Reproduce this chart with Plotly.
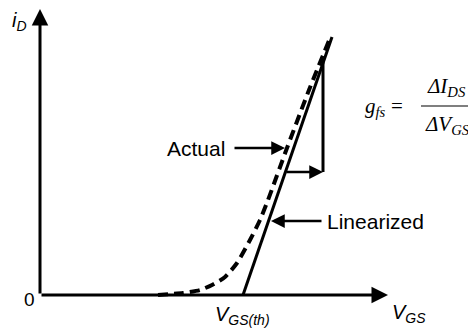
import plotly.graph_objects as go

# ---- data (arbitrary units: V_GS horizontal, i_D vertical) ----
x_axis_end = 34.8
y_axis_end = 28.6
v_th = 20.3

lin_x = [v_th, 29.2]
lin_y = [0.0, 25.8]

actual_x = [11.8, 14.3, 16.0, 17.2, 18.5, 19.7, 21.0, 22.0, 22.8, 24.7, 26.9, 29.0]
actual_y = [0.0, 0.2, 0.5, 1.0, 1.8, 3.2, 5.5, 7.5, 9.5, 14.7, 20.5, 25.7]

tri_x = [24.5, 28.3]      # ΔV_GS span
tri_y = [12.3, 23.4]      # ΔI_DS span

SANS = "Liberation Sans, Arial, sans-serif"
SERIF = "Liberation Serif, Times New Roman, serif"

fig = go.Figure()

# linearized line
fig.add_trace(go.Scatter(x=lin_x, y=lin_y, mode="lines",
                         line=dict(color="black", width=3), hoverinfo="skip"))
# actual (dashed) curve
fig.add_trace(go.Scatter(x=actual_x, y=actual_y, mode="lines",
                         line=dict(color="black", width=4, dash="10px,6px", shape="spline", smoothing=0.6),
                         hoverinfo="skip"))
# triangle vertical side
fig.add_trace(go.Scatter(x=[tri_x[1], tri_x[1]], y=[tri_y[0], tri_y[1]], mode="lines",
                         line=dict(color="black", width=3), hoverinfo="skip"))
# fraction bar
fig.add_trace(go.Scatter(x=[38.1, 43.2], y=[18.9, 18.9], mode="lines",
                         line=dict(color="black", width=1.2), hoverinfo="skip"))

def arrow(x0, y0, x1, y1, w=3):
    fig.add_annotation(x=x1, y=y1, ax=x0, ay=y0, xref="x", yref="y", axref="x", ayref="y",
                       text="", showarrow=True, arrowhead=2, arrowsize=1.1, arrowwidth=w,
                       arrowcolor="black", standoff=0, startstandoff=0)

# axes
arrow(0, 0, x_axis_end, 0)
arrow(0, 0, 0, y_axis_end)
# Actual arrow
arrow(19.3, 14.7, 24.5, 14.7, 2.5)
# Linearized arrow
arrow(28.3, 7.4, 23.1, 7.4, 2.5)
# triangle horizontal arrow
arrow(tri_x[0], tri_y[0], tri_x[1], tri_y[0], 2.5)

def label(x, y, text, size, family=SANS, xanchor="center"):
    fig.add_annotation(x=x, y=y, xref="x", yref="y", text=text, showarrow=False,
                       xanchor=xanchor, yanchor="middle",
                       font=dict(family=family, size=size, color="black"))

label(-1.1, -0.4, "0", 19)
label(-2.1, 27.4, "<i>i<sub>D</sub></i>", 20)
label(20.2, -2.0, "<i>V<sub>GS(th)</sub></i>", 20)
label(36.9, -1.8, "<i>V<sub>GS</sub></i>", 20)
label(18.7, 14.7, "Actual", 21, xanchor="right")
label(28.5, 7.4, "Linearized", 21, xanchor="left")
label(33.5, 18.8, "<i>g<sub>fs</sub></i>", 21, family=SERIF)
label(35.7, 18.9, "=", 21, family=SERIF)
label(40.6, 20.8, "<i>ΔI<sub>DS</sub></i>", 21, family=SERIF)
label(40.7, 17.0, "<i>ΔV<sub>GS</sub></i>", 21, family=SERIF)

# the page adds an 8px body margin, so the figure is sized to fit inside it
fig.update_layout(
    width=468, height=321,
    margin=dict(l=0, r=0, t=0, b=0),
    paper_bgcolor="white", plot_bgcolor="white",
    showlegend=False,
    xaxis=dict(range=[-3.2, 43.6], visible=False, fixedrange=True),
    yaxis=dict(range=[-3.4, 28.7], visible=False, fixedrange=True),
)

fig.write_html("out.html")
